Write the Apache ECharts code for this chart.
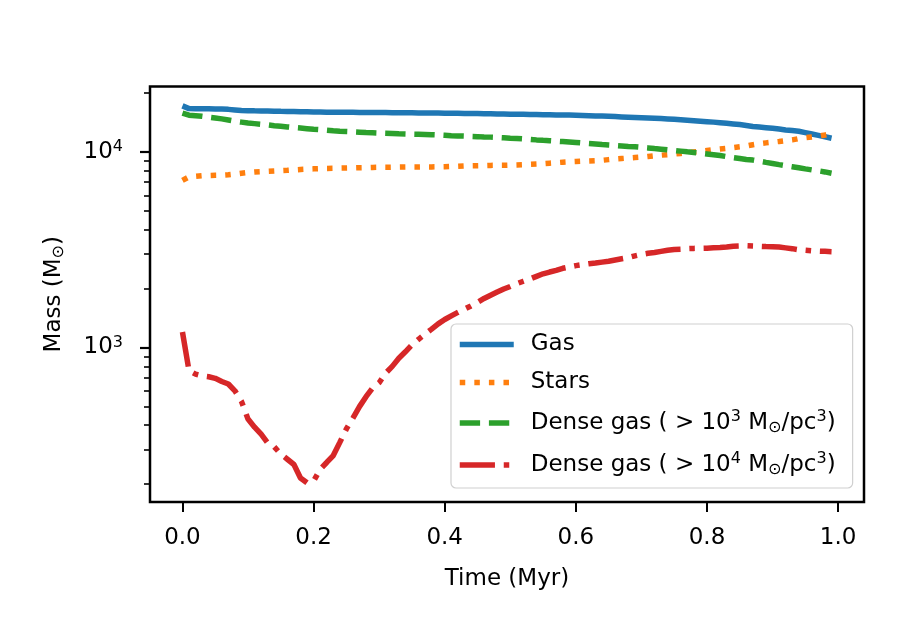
<!DOCTYPE html>
<html>
<head>
<meta charset="utf-8">
<title>Mass evolution</title>
<script src="https://cdn.jsdelivr.net/npm/echarts@6/dist/echarts.min.js"></script>
<style>
  html, body { margin: 0; padding: 0; background: #fff; }
  #chart { width: 907px; height: 633px; }
</style>
</head>
<body>
<div id="chart"></div>
<script>
// time (Myr)
const time = [
  0.00, 0.01, 0.02, 0.03, 0.04, 0.05, 0.06, 0.07, 0.08, 0.09,
  0.10, 0.11, 0.12, 0.13, 0.14, 0.15, 0.16, 0.17, 0.18, 0.19,
  0.20, 0.21, 0.22, 0.23, 0.24, 0.25, 0.26, 0.27, 0.28, 0.29,
  0.30, 0.31, 0.32, 0.33, 0.34, 0.35, 0.36, 0.37, 0.38, 0.39,
  0.40, 0.41, 0.42, 0.43, 0.44, 0.45, 0.46, 0.47, 0.48, 0.49,
  0.50, 0.51, 0.52, 0.53, 0.54, 0.55, 0.56, 0.57, 0.58, 0.59,
  0.60, 0.61, 0.62, 0.63, 0.64, 0.65, 0.66, 0.67, 0.68, 0.69,
  0.70, 0.71, 0.72, 0.73, 0.74, 0.75, 0.76, 0.77, 0.78, 0.79,
  0.80, 0.81, 0.82, 0.83, 0.84, 0.85, 0.86, 0.87, 0.88, 0.89,
  0.90, 0.91, 0.92, 0.93, 0.94, 0.95, 0.96, 0.97, 0.98, 0.99
];

// masses (Msun)
const gasMass = [
  17200, 16650, 16600, 16600, 16600, 16580, 16550, 16500, 16400, 16300,
  16250, 16220, 16200, 16180, 16150, 16120, 16100, 16080, 16050, 16030,
  16000, 15990, 15970, 15960, 15950, 15940, 15930, 15920, 15910, 15900,
  15890, 15880, 15870, 15860, 15850, 15840, 15830, 15820, 15800, 15790,
  15780, 15760, 15750, 15730, 15720, 15700, 15680, 15660, 15640, 15620,
  15600, 15580, 15560, 15540, 15520, 15500, 15480, 15460, 15440, 15420,
  15400, 15360, 15320, 15280, 15240, 15200, 15150, 15100, 15050, 15000,
  14950, 14900, 14850, 14800, 14750, 14680, 14600, 14520, 14440, 14360,
  14280, 14200, 14100, 14000, 13900, 13800, 13650, 13500, 13400, 13300,
  13200, 13080, 12950, 12850, 12750, 12550, 12350, 12150, 11950, 11750
];
const starMass = [
  7150, 7450, 7500, 7550, 7570, 7590, 7600, 7640, 7700, 7780,
  7850, 7900, 7930, 7960, 7990, 8020, 8050, 8090, 8130, 8160,
  8190, 8210, 8230, 8240, 8260, 8270, 8280, 8300, 8310, 8330,
  8340, 8340, 8350, 8360, 8370, 8370, 8370, 8380, 8380, 8390,
  8400, 8420, 8450, 8480, 8490, 8500, 8510, 8530, 8540, 8540,
  8560, 8580, 8610, 8640, 8670, 8710, 8760, 8810, 8860, 8900,
  8930, 8960, 8990, 9020, 9060, 9130, 9200, 9250, 9300, 9350,
  9400, 9480, 9560, 9620, 9680, 9750, 9820, 9900, 9990, 10080,
  10170, 10260, 10340, 10420, 10520, 10620, 10720, 10880, 11020, 11120,
  11210, 11310, 11420, 11520, 11700, 11820, 11920, 12020, 12200, 12400
];
const dense3Mass = [
  15800, 15400, 15300, 15200, 15050, 14900, 14750, 14550, 14350, 14200,
  14050, 13950, 13850, 13750, 13620, 13520, 13420, 13330, 13240, 13150,
  13050, 12980, 12900, 12820, 12750, 12710, 12670, 12620, 12570, 12530,
  12490, 12460, 12420, 12380, 12360, 12330, 12310, 12280, 12250, 12210,
  12160, 12110, 12070, 12040, 12000, 11970, 11930, 11900, 11850, 11800,
  11750, 11710, 11650, 11590, 11520, 11460, 11410, 11350, 11290, 11230,
  11170, 11100, 11030, 10970, 10900, 10840, 10790, 10730, 10670, 10620,
  10550, 10480, 10400, 10330, 10250, 10170, 10090, 10010, 9940, 9850,
  9760, 9670, 9580, 9460, 9350, 9250, 9150, 9080, 8960, 8840,
  8730, 8610, 8500, 8400, 8300, 8190, 8090, 8000, 7900, 7780
];
const dense4Mass = [
  1200, 760, 730, 715, 708, 695, 670, 650, 600, 530,
  430, 391, 360, 325, 310, 285, 268, 252, 215, 203,
  207, 238, 258, 280, 327, 383, 435, 498, 560, 620,
  660, 740, 800, 880, 950, 1030, 1100, 1170, 1240, 1320,
  1390, 1450, 1510, 1570, 1630, 1700, 1780, 1850, 1920, 1990,
  2050, 2120, 2180, 2240, 2310, 2380, 2430, 2480, 2540, 2580,
  2620, 2650, 2680, 2700, 2730, 2760, 2800, 2840, 2880, 2940,
  2990, 3030, 3060, 3100, 3140, 3170, 3180, 3200, 3210, 3215,
  3220, 3230, 3240, 3260, 3290, 3300, 3310, 3300, 3290, 3280,
  3275, 3260, 3230, 3200, 3160, 3140, 3120, 3110, 3100, 3090
];

const seriesNames = ['Gas', 'Stars', 'Dense gas ( > 10^3 M⊙/pc^3)', 'Dense gas ( > 10^4 M⊙/pc^3)'];
const xTicks = [0.0, 0.2, 0.4, 0.6, 0.8, 1.0];
const yMajorTicks = [1000, 10000];
const yMinorTicks = [200, 300, 400, 500, 600, 700, 800, 900,
                     2000, 3000, 4000, 5000, 6000, 7000, 8000, 9000, 20000];

const FONT = 'DejaVu Sans';
const FS = 23;
const colors = ['#1f77b4', '#ff7f0e', '#2ca02c', '#d62728'];
const LW = 5.5;

// rich-text versions of the legend labels (superscripts, sun symbol)
const legendLabels = {
  'Gas': '{sp| }{n|Gas}',
  'Stars': '{sp| }{n|Stars}',
  'Dense gas ( > 10^3 M⊙/pc^3)': '{sp| }{n|Dense gas ( > 10}{sup|3}{n| M}{sub|⊙}{n|/pc}{sup|3}{n|)}',
  'Dense gas ( > 10^4 M⊙/pc^3)': '{sp| }{n|Dense gas ( > 10}{sup|4}{n| M}{sub|⊙}{n|/pc}{sup|3}{n|)}'
};

const richText = {
  sp: { width: 12, fontSize: FS, lineHeight: 26 },
  n: { fontFamily: FONT, fontSize: FS, lineHeight: 26, color: '#000' },
  sup: { fontFamily: FONT, fontSize: 16, lineHeight: 15, verticalAlign: 'bottom', padding: [0, 0, 11, 0], color: '#000' },
  sub: { fontFamily: FONT, fontSize: 16, lineHeight: 15, verticalAlign: 'middle', padding: [9, 0, 0, 0], color: '#000' }
};

function zip(xs, ys) { return xs.map((x, i) => [x, ys[i]]); }

// matplotlib-like dash patterns scaled by line width
const lineStyles = [
  { type: 'solid' },
  { type: [LW, 1.65 * LW] },
  { type: [3.7 * LW, 1.6 * LW] },
  { type: [6.4 * LW, 1.6 * LW, LW, 1.6 * LW] }
];
const massArrays = [gasMass, starMass, dense3Mass, dense4Mass];

const chart = echarts.init(document.getElementById('chart'), null, { renderer: 'canvas' });

chart.setOption({
  animation: false,
  backgroundColor: '#fff',
  color: colors,
  grid: {
    left: 150, right: 43, top: 86.5, bottom: 131,
    show: true, borderColor: '#000', borderWidth: 2.5, backgroundColor: 'transparent'
  },
  legend: {
    orient: 'vertical',
    left: 451, top: 324,
    padding: [9, 17, 10, 6],
    itemGap: 15,
    itemWidth: 54, itemHeight: 14,
    backgroundColor: '#fff',
    borderColor: '#d0d0d0', borderWidth: 1.2, borderRadius: 5,
    data: seriesNames,
    itemStyle: { opacity: 0 },
    lineStyle: { width: LW },
    formatter: name => legendLabels[name],
    textStyle: { fontFamily: FONT, fontSize: FS, color: '#000', rich: richText }
  },
  xAxis: {
    type: 'value',
    min: -0.0495, max: 1.0395,
    name: 'Time (Myr)',
    nameLocation: 'middle',
    nameGap: 66,
    nameTextStyle: { fontFamily: FONT, fontSize: FS, color: '#000' },
    axisLine: { show: false, onZero: false },
    splitLine: { show: false },
    axisTick: { show: true, length: 10, customValues: xTicks, lineStyle: { color: '#000', width: 2 } },
    axisLabel: {
      customValues: xTicks, margin: 25,
      fontFamily: FONT, fontSize: FS, color: '#000',
      formatter: v => v.toFixed(1)
    }
  },
  yAxis: [{
    type: 'log', logBase: 10,
    min: 162, max: 21600,
    name: '{n|Mass (M}{sub|⊙}{n|)}',
    nameLocation: 'middle',
    nameGap: 83,
    nameRotate: 90,
    nameTextStyle: { fontFamily: FONT, fontSize: FS, color: '#000', rich: richText },
    axisLine: { show: false, onZero: false },
    splitLine: { show: false },
    minorTick: { show: false },
    axisTick: { show: true, length: 10, customValues: yMajorTicks, lineStyle: { color: '#000', width: 2.2 } },
    axisLabel: {
      customValues: yMajorTicks, margin: 27,
      formatter: v => '{b|10}{s|' + Math.round(Math.log10(v)) + '}',
      rich: {
        b: { fontFamily: FONT, fontSize: FS, lineHeight: 26, color: '#000' },
        s: { fontFamily: FONT, fontSize: 16, lineHeight: 15, verticalAlign: 'top', color: '#000' }
      }
    }
  }, {
    // minor ticks only
    type: 'log', logBase: 10,
    min: 162, max: 21600,
    position: 'left',
    axisLine: { show: false, onZero: false },
    splitLine: { show: false },
    axisLabel: { show: false },
    axisTick: { show: true, length: 6, customValues: yMinorTicks, lineStyle: { color: '#000', width: 1.6 } }
  }],
  series: massArrays.map((arr, i) => ({
    name: seriesNames[i],
    type: 'line',
    yAxisIndex: 0,
    symbol: 'none',
    showSymbol: false,
    clip: true,
    data: zip(time, arr),
    lineStyle: Object.assign({ width: LW, color: colors[i], cap: 'butt' }, lineStyles[i]),
    itemStyle: { color: colors[i] },
    z: 2 + i
  }))
});
</script>
</body>
</html>
